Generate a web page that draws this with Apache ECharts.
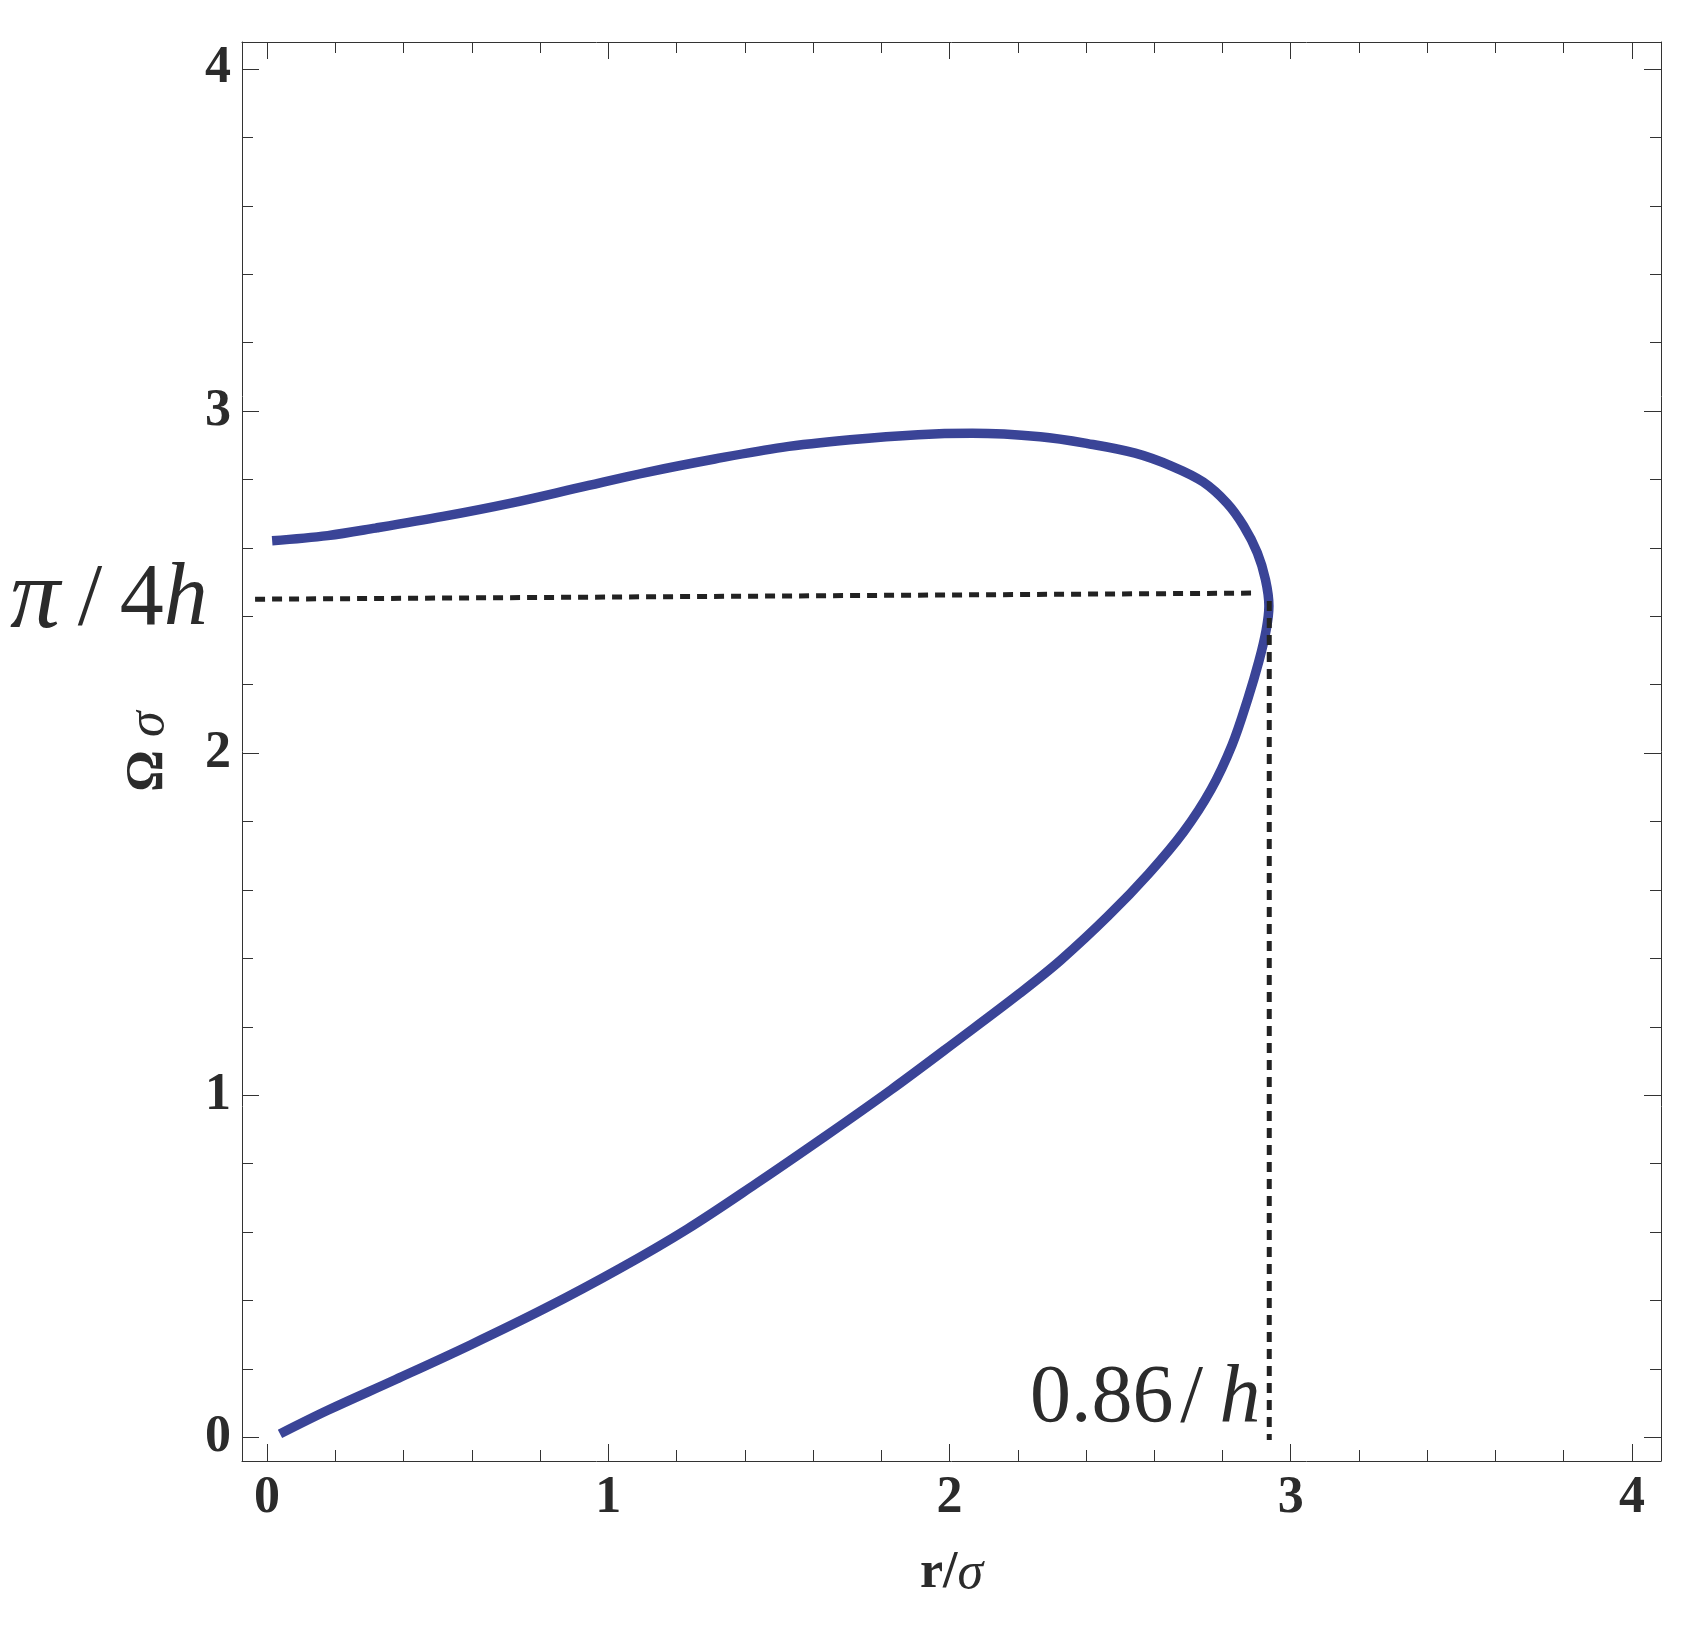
<!DOCTYPE html>
<html><head><meta charset="utf-8">
<script src="https://cdn.jsdelivr.net/npm/echarts@6/dist/echarts.min.js"></script>
<style>html,body{margin:0;padding:0;background:#fff}#c{width:1702px;height:1629px}</style>
</head><body><div id="c"></div>
<script>
// Curve traced along its path (lower branch up, then back along the upper branch)
const curveR = [0.038, 0.178, 0.377, 0.596, 0.815, 1.033, 1.232, 1.431, 1.630, 1.829, 2.027, 2.206, 2.326, 2.465, 2.584, 2.686, 2.766, 2.828, 2.874, 2.907, 2.928, 2.936, 2.926, 2.902, 2.862, 2.813, 2.743, 2.654, 2.544, 2.405, 2.266, 2.067, 1.908, 1.709, 1.510, 1.312, 1.113, 0.914, 0.715, 0.516, 0.318, 0.178, 0.015];
const curveOmega = [0.01, 0.079, 0.169, 0.270, 0.377, 0.493, 0.609, 0.740, 0.876, 1.016, 1.163, 1.298, 1.395, 1.524, 1.648, 1.770, 1.893, 2.024, 2.158, 2.270, 2.360, 2.430, 2.507, 2.586, 2.664, 2.731, 2.793, 2.838, 2.877, 2.905, 2.925, 2.935, 2.931, 2.916, 2.894, 2.860, 2.821, 2.776, 2.731, 2.692, 2.658, 2.636, 2.621];

// Dotted guide lines
const guideHR = [-0.035, 2.9];
const guideHOmega = [2.45, 2.468];
const guideVR = [2.937, 2.937];
const guideVOmega = [2.445, -0.008];

// Axis ticks and labels
const majorTicks = [0, 1, 2, 3, 4];
const tickLabels = ['0', '1', '2', '3', '4'];
const minorTicks = [0.2, 0.4, 0.6, 0.8, 1.2, 1.4, 1.6, 1.8, 2.2, 2.4, 2.6, 2.8, 3.2, 3.4, 3.6, 3.8];
const xRange = [-0.0733, 4.085];
const yRange = [-0.0693, 4.079];
const xName = ['r/', 'σ'];
const yName = ['Ω ', 'σ'];
const annoOmega = ['π', '\u2009/\u20094', 'h'];
const annoR = ['0.86\u200A/\u2009', 'h'];

const chart = echarts.init(document.getElementById('c'));
const serif = 'Liberation Serif';
const textColor = '#2b2b2b';
const frameColor = '#333';

const lbl = {
  show: true, customValues: majorTicks, fontFamily: serif, fontWeight: 'bold', fontSize: 52, color: textColor,
  formatter: v => tickLabels[majorTicks.indexOf(Math.round(v))] ?? ''
};

function axis(kind, gridIndex, position, major, showLine, withLabel, range) {
  return {
    type: 'value', gridIndex, position, min: range[0], max: range[1],
    splitLine: {show: false},
    axisLine: {show: showLine, onZero: false, lineStyle: {color: frameColor, width: 1}},
    axisTick: {show: true, inside: true, customValues: major ? majorTicks : minorTicks,
               length: major ? 17 : 11, lineStyle: {color: frameColor, width: 1}},
    axisLabel: withLabel ? Object.assign({}, lbl, {margin: kind === 'x' ? 12 : 11}) : {show: false}
  };
}

const nameRich = {
  a: {fontFamily: serif, fontWeight: 'bold', fontSize: 52, color: textColor},
  b: {fontFamily: serif, fontStyle: 'italic', fontSize: 52, color: textColor}
};
const xA0 = axis('x', 0, 'bottom', true, true, true, xRange);
xA0.name = '{a|' + xName[0] + '}{b|' + xName[1] + '}';
xA0.nameLocation = 'middle';
xA0.nameGap = 87;
xA0.nameTextStyle = {rich: nameRich};
const yA0 = axis('y', 0, 'left', true, true, true, yRange);
yA0.name = '{a|' + yName[0] + '}{b|' + yName[1] + '}';
yA0.nameLocation = 'middle';
yA0.nameRotate = 90;
yA0.nameGap = 67;
yA0.nameTextStyle = {rich: nameRich};

const option = {
  animation: false,
  backgroundColor: '#fff',
  grid: [
    {left: 242, right: 41, top: 42, bottom: 168},
    {left: 242, right: 41, top: 42, bottom: 168}
  ],
  xAxis: [
    xA0,
    axis('x', 0, 'top', true, true, false, xRange),
    axis('x', 1, 'bottom', false, false, false, xRange),
    axis('x', 1, 'top', false, false, false, xRange)
  ],
  yAxis: [
    yA0,
    axis('y', 0, 'right', true, true, false, yRange),
    axis('y', 1, 'left', false, false, false, yRange),
    axis('y', 1, 'right', false, false, false, yRange)
  ],
  series: [
    {
      type: 'line', xAxisIndex: 0, yAxisIndex: 0, showSymbol: false, smooth: 0.35, z: 2,
      data: curveR.map((r, i) => [r, curveOmega[i]]),
      lineStyle: {color: '#3a4497', width: 9.5}
    },
    {
      type: 'line', xAxisIndex: 0, yAxisIndex: 0, showSymbol: false, z: 3,
      data: guideHR.map((r, i) => [r, guideHOmega[i]]),
      lineStyle: {color: '#222', width: 5, type: [10, 7]}
    },
    {
      type: 'line', xAxisIndex: 0, yAxisIndex: 0, showSymbol: false, z: 3,
      data: guideVR.map((r, i) => [r, guideVOmega[i]]),
      lineStyle: {color: '#222', width: 5, type: [10, 7]}
    }
  ],
  graphic: [
    {
      type: 'text', x: 10, y: 601, z: 10,
      style: {
        text: '{p|' + annoOmega[0] + '}{n|' + annoOmega[1] + '}{i|' + annoOmega[2] + '}',
        verticalAlign: 'middle', align: 'left',
        rich: {
          p: {fontFamily: serif, fontStyle: 'italic', fontSize: 100, fill: textColor, color: textColor},
          i: {fontFamily: serif, fontStyle: 'italic', fontSize: 88, fill: textColor, color: textColor},
          n: {fontFamily: serif, fontSize: 88, fill: textColor, color: textColor}
        }
      }
    },
    {
      type: 'text', x: 1030, y: 1399, z: 10,
      style: {
        text: '{n|' + annoR[0] + '}{i|' + annoR[1] + '}',
        verticalAlign: 'middle', align: 'left',
        rich: {
          i: {fontFamily: serif, fontStyle: 'italic', fontSize: 82, fill: textColor, color: textColor},
          n: {fontFamily: serif, fontSize: 82, fill: textColor, color: textColor}
        }
      }
    }
  ]
};
chart.setOption(option);
</script>
</body></html>
